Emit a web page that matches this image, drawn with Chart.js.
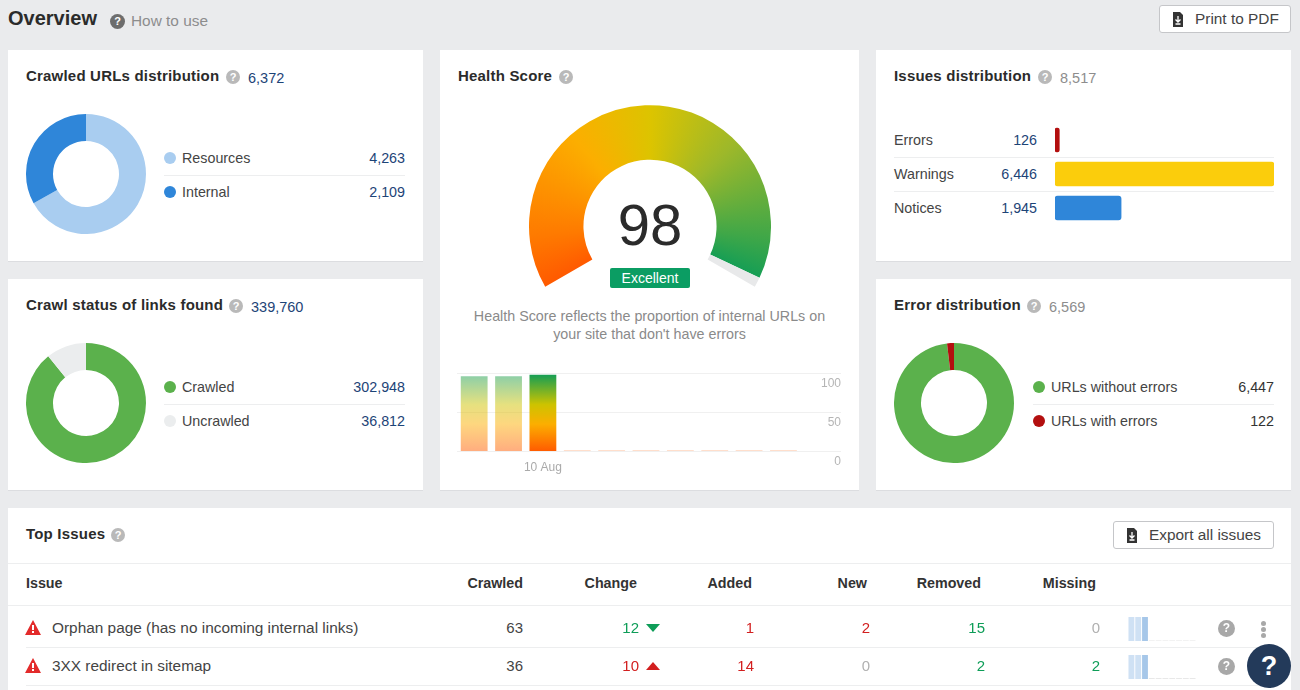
<!DOCTYPE html>
<html lang="en">
<head>
    <meta charset="UTF-8">
    <title>Site Audit Overview</title>
    <script src="https://cdn.jsdelivr.net/npm/chart.js"></script>
    <style>
        html, body { margin: 0; padding: 0; }
        body {
            position: relative;
            width: 1300px;
            height: 690px;
            overflow: hidden;
            background: #eaebed;
            font-family: "Liberation Sans", Arial, sans-serif;
            font-size: 14.3px;
            color: #333;
        }
        .card { position: absolute; background: #fff; border-bottom: 1px solid #dcdde0; box-sizing: border-box; }
        .abs { position: absolute; white-space: nowrap; line-height: 18px; }
        .title { font-weight: bold; font-size: 15px; color: #2b2b2b; letter-spacing: .2px; }
        .blue { color: #1d4477; }
        .grey { color: #8d8d8d; }
        .right { text-align: right; }
        .help {
            position: absolute; width: 14px; height: 14px; border-radius: 50%;
            background: #b9b9b9; color: #fff; font-size: 11px; font-weight: bold;
            line-height: 14px; text-align: center;
        }
        .dot { position: absolute; width: 12px; height: 12px; border-radius: 50%; }
        .sep { position: absolute; height: 1px; background: #edeeef; }
        .btn {
            position: absolute; box-sizing: border-box; background: #fff;
            border: 1px solid #c5c6c9; border-radius: 3px; line-height: 26px;
            color: #444; white-space: nowrap; font-size: 15.4px;
        }
        .btn svg { position: absolute; left: 11px; top: 6px; }
        canvas { position: absolute; display: block; }
        .th { font-weight: bold; font-size: 14.3px; color: #333; }
        .cell { font-size: 15px; color: #444; }
        .good { color: #0e9d58; }
        .bad { color: #d21f1f; }
        .none { color: #b0b0b0; }
        #badge {
            position: absolute; left: 610px; top: 268px; width: 80px; height: 20px;
            background: #0b9d63; color: #fff; border-radius: 2px; text-align: center;
            font-size: 14px; line-height: 20px;
        }
        #score { position: absolute; left: 590px; top: 190px; width: 120px; text-align: center; font-size: 58px; line-height: 70px; color: #2b2b2b; }
        #fab {
            position: absolute; left: 1247px; top: 644px; width: 44px; height: 44px; border-radius: 50%; z-index: 10;
            background: #233a5a; color: #fff; text-align: center; font-size: 27px; font-weight: bold; line-height: 44px;
        }
        .kebab { position: absolute; left: 1261px; width: 5px; height: 5px; border-radius: 50%; background: #a8a8a8; }
    </style>
</head>
<body>
    <div class="abs" style="left:8px;top:6px;font-size:20px;line-height:24px;font-weight:bold;color:#2b2b2b">Overview</div>
    <div class="help" style="left:110px;top:14px;width:15px;height:15px;line-height:15px;background:#6d6d6d">?</div>
    <div class="abs grey" style="left:131px;top:12px;font-size:15.4px">How to use</div>
    <div class="btn" style="left:1159px;top:5px;width:132px;height:28px;padding-left:35px">
        <svg width="14" height="15" viewBox="0 0 14 15"><path d="M2 0h7l3 3v12H2z" fill="#333"/><path d="M7 4v5M4.5 7.5L7 10l2.5-2.5M4.5 12h5" stroke="#fff" stroke-width="1.3" fill="none"/></svg>Print to PDF
    </div>

    <div class="card" style="left:8px;top:50px;width:415px;height:212px"></div>
    <div class="card" style="left:8px;top:279px;width:415px;height:212px"></div>
    <div class="card" style="left:440px;top:50px;width:419px;height:441px"></div>
    <div class="card" style="left:876px;top:50px;width:415px;height:212px"></div>
    <div class="card" style="left:876px;top:279px;width:415px;height:212px"></div>
    <div class="card" style="left:8px;top:508px;width:1283px;height:190px"></div>

    <div class="abs title" style="left:26px;top:67px">Crawled URLs distribution</div>
    <div class="help" style="left:226px;top:70px">?</div>
    <div class="abs blue" style="left:248px;top:69px;font-size:14.5px">6,372</div>

    <div class="abs title" style="left:26px;top:296px">Crawl status of links found</div>
    <div class="help" style="left:229px;top:299px">?</div>
    <div class="abs blue" style="left:251px;top:298px;font-size:14.5px">339,760</div>

    <div class="abs title" style="left:458px;top:67px">Health Score</div>
    <div class="help" style="left:559px;top:70px">?</div>

    <div class="abs title" style="left:894px;top:67px">Issues distribution</div>
    <div class="help" style="left:1038px;top:70px">?</div>
    <div class="abs grey" style="left:1060px;top:69px;font-size:14.5px">8,517</div>

    <div class="abs title" style="left:894px;top:296px">Error distribution</div>
    <div class="help" style="left:1027px;top:299px">?</div>
    <div class="abs grey" style="left:1049px;top:298px;font-size:14.5px">6,569</div>

    <canvas id="crawledChart" width="120" height="120" style="left:26px;top:114px"></canvas>
    <canvas id="statusChart" width="120" height="120" style="left:26px;top:343px"></canvas>
    <canvas id="errorChart" width="120" height="120" style="left:894px;top:343px"></canvas>
    <canvas id="gaugeChart" width="242" height="182" style="left:529px;top:105px"></canvas>
    <canvas id="historyChart" width="384" height="116" style="left:457px;top:360px"></canvas>
    <canvas id="issuesChart" width="219" height="102" style="left:1055px;top:123px"></canvas>

    <div id="score">98</div>
    <div id="badge">Excellent</div>
    <div class="abs grey" style="left:440px;top:307px;width:419px;text-align:center;line-height:18px;white-space:normal;color:#8a8a8a">Health Score reflects the proportion of internal URLs on<br>your site that don't have errors</div>

    <div class="abs title" style="left:26px;top:525px">Top Issues</div>
    <div class="help" style="left:111px;top:528px">?</div>
    <div class="btn" style="left:1113px;top:521px;width:161px;height:28px;padding-left:35px">
        <svg width="14" height="15" viewBox="0 0 14 15"><path d="M2 0h7l3 3v12H2z" fill="#333"/><path d="M7 4v5M4.5 7.5L7 10l2.5-2.5M4.5 12h5" stroke="#fff" stroke-width="1.3" fill="none"/></svg>Export all issues
    </div>
    <div class="sep" style="left:8px;top:563px;width:1283px"></div>
    <div class="sep" style="left:8px;top:605px;width:1283px"></div>
    <canvas id="sparkChart0" width="68" height="24" style="left:1128px;top:617px"></canvas>
    <canvas id="sparkChart1" width="68" height="24" style="left:1128px;top:655px"></canvas>
    <div class="kebab" style="top:621px"></div>
    <div class="kebab" style="top:627px"></div>
    <div class="kebab" style="top:633px"></div>
    <div id="fab">?</div>

    <script>
        // Values
        const crawledLabels = ['Resources', 'Internal'];
        const crawledValues = [4263, 2109];
        const statusLabels = ['Crawled', 'Uncrawled'];
        const statusValues = [302948, 36812];
        const errorLabels = ['URLs without errors', 'URLs with errors'];
        const errorValues = [6447, 122];
        const issueLabels = ['Errors', 'Warnings', 'Notices'];
        const issueValues = [126, 6446, 1945];
        const healthScore = 98;
        const historyLabels = ['', '', '10 Aug', '', '', '', '', '', '', '', ''];
        const historyValues = [96, 96, 98, 2, 2, 2, 2, 2, 2, 2, null];
        const historyTicks = [0, 50, 100];
        const columnHeaders = ['Issue', 'Crawled', 'Change', 'Added', 'New', 'Removed', 'Missing'];
        const issueNames = ['Orphan page (has no incoming internal links)', '3XX redirect in sitemap'];
        const crawledCounts = [63, 36];
        const changeCounts = [12, 10];
        const changeDirections = ['down', 'up'];
        const addedCounts = [1, 14];
        const newCounts = [2, 0];
        const removedCounts = [15, 2];
        const missingCounts = [0, 2];
        const sparkValues0 = [63, 63, 63, 1, 1, 1, 1, 1, 1, 1];
        const sparkValues1 = [36, 36, 36, 1, 1, 1, 1, 1, 1, 1];

        Chart.defaults.animation = false;
        Chart.defaults.responsive = false;
        Chart.defaults.font.family = '"Liberation Sans", Arial, sans-serif';
        Chart.defaults.plugins.legend.display = false;
        Chart.defaults.plugins.tooltip.enabled = false;

        const fmt = v => v.toLocaleString('en-US');

        function addDiv(className, style, text) {
            const el = document.createElement('div');
            el.className = className;
            el.style.cssText = style;
            if (text !== undefined) el.textContent = text;
            document.body.appendChild(el);
            return el;
        }

        function donut(id, labels, values, colors) {
            new Chart(document.getElementById(id), {
                type: 'doughnut',
                data: { labels: labels, datasets: [{ data: values, backgroundColor: colors, borderWidth: 0 }] },
                options: { cutout: '55%' }
            });
        }

        function legendRows(labels, values, colors, left, right, top, valueClass) {
            labels.forEach((label, i) => {
                const y = top + i * 34;
                addDiv('dot', `left:${left - 6}px;top:${y - 6}px;background:${colors[i]}`);
                addDiv('abs', `left:${left + 12}px;top:${y - 9}px;color:#444`, label);
                addDiv('abs right ' + valueClass, `left:${right - 100}px;width:100px;top:${y - 9}px`, fmt(values[i]));
            });
            addDiv('sep', `left:${left - 6}px;top:${top + 17}px;width:${right - left + 6}px`);
        }

        const crawledColors = ['#a9cdf0', '#2f86d9'];
        const statusColors = ['#5bb14c', '#ebedee'];
        const errorColors = ['#5bb14c', '#b30f0f'];
        donut('crawledChart', crawledLabels, crawledValues, crawledColors);
        donut('statusChart', statusLabels, statusValues, statusColors);
        donut('errorChart', errorLabels, errorValues, errorColors);
        legendRows(crawledLabels, crawledValues, crawledColors, 170, 405, 158, 'blue');
        legendRows(statusLabels, statusValues, statusColors, 170, 405, 387, 'blue');
        legendRows(errorLabels, errorValues, errorColors, 1039, 1274, 387, '');

        // Gauge: 240 degree arc with a conic gradient
        new Chart(document.getElementById('gaugeChart'), {
            type: 'doughnut',
            data: {
                datasets: [{
                    data: [healthScore, 100 - healthScore],
                    borderWidth: 0,
                    backgroundColor(ctx) {
                        if (ctx.dataIndex === 1) return '#e8e9ea';
                        const chart = ctx.chart;
                        // the arc's centre sits one radius below the top of the canvas
                        const radius = chart.width / 2;
                        const g = chart.ctx.createConicGradient(150 * Math.PI / 180, radius, radius);
                        g.addColorStop(0, '#ff5a00');
                        g.addColorStop(0.07, '#fe7a00');
                        g.addColorStop(0.22, '#fcae00');
                        g.addColorStop(0.335, '#dcc400');
                        g.addColorStop(0.46, '#9db82a');
                        g.addColorStop(0.6, '#3fa748');
                        g.addColorStop(0.667, '#0c9c58');
                        g.addColorStop(1, '#ff5a00');
                        return g;
                    }
                }]
            },
            options: { rotation: -120, circumference: 240, cutout: '55%' }
        });

        // Score history
        new Chart(document.getElementById('historyChart'), {
            type: 'bar',
            data: {
                labels: historyLabels,
                datasets: [{
                    data: historyValues,
                    categoryPercentage: 1,
                    barPercentage: 0.78,
                    backgroundColor(ctx) {
                        const area = ctx.chart.chartArea;
                        if (!area) return '#eee';
                        const a = ctx.dataIndex === 2 ? 1 : (ctx.dataIndex > 2 ? 0.2 : 0.5);
                        const g = ctx.chart.ctx.createLinearGradient(0, area.bottom, 0, area.top);
                        g.addColorStop(0, `rgba(255,90,0,${a})`);
                        g.addColorStop(0.35, `rgba(252,174,0,${a})`);
                        g.addColorStop(0.6, `rgba(205,195,0,${a})`);
                        g.addColorStop(1, `rgba(12,156,88,${a})`);
                        return g;
                    }
                }]
            },
            options: {
                layout: { padding: { top: 3 } },
                scales: {
                    x: {
                        grid: { display: false },
                        border: { display: false },
                        ticks: { color: '#aaa', font: { size: 12 }, autoSkip: false, maxRotation: 0, padding: 1 }
                    },
                    y: {
                        position: 'right',
                        min: 0,
                        max: 100,
                        afterBuildTicks(axis) { axis.ticks = historyTicks.map(v => ({ value: v })); },
                        afterFit(axis) { axis.width = 6; },
                        grid: { color: '#f0f0f0', tickLength: 6 },
                        border: { display: false },
                        ticks: { color: '#b5b5b5', font: { size: 12 }, mirror: true, padding: 6, labelOffset: 10.5 }
                    }
                }
            }
        });

        // Issues bars
        issueLabels.forEach((label, i) => {
            addDiv('abs', `left:894px;top:${131 + i * 34}px;color:#444`, label);
            addDiv('abs right blue', `left:937px;width:100px;top:${131 + i * 34}px`, fmt(issueValues[i]));
        });
        addDiv('sep', 'left:894px;top:157px;width:380px');
        addDiv('sep', 'left:894px;top:191px;width:380px');
        new Chart(document.getElementById('issuesChart'), {
            type: 'bar',
            data: {
                labels: issueLabels,
                datasets: [{
                    data: issueValues,
                    backgroundColor: ['#b30f0f', '#fbcd0c', '#2f86d9'],
                    barThickness: 24,
                    borderRadius: 3,
                    borderSkipped: false
                }]
            },
            options: {
                indexAxis: 'y',
                scales: {
                    x: { display: false, min: 0, max: 6446 },
                    y: { display: false }
                }
            }
        });

        // Top issues table
        const columnRight = [0, 523, 637, 752, 867, 981, 1096];
        columnHeaders.forEach((h, c) => {
            if (c === 0) addDiv('abs th', 'left:26px;top:574px', h);
            else addDiv('abs th right', `left:${columnRight[c] - 100}px;width:100px;top:574px`, h);
        });
        issueNames.forEach((name, r) => {
            const y = 619 + r * 38;
            const tri = document.createElementNS('http://www.w3.org/2000/svg', 'svg');
            tri.setAttribute('width', 16);
            tri.setAttribute('height', 15);
            tri.style.cssText = `position:absolute;left:25px;top:${y + 1}px`;
            tri.innerHTML = '<path d="M8 0L16 15H0z" fill="#e32b2b"/><rect x="7" y="5" width="2" height="5" fill="#fff"/><rect x="7" y="11" width="2" height="2" fill="#fff"/>';
            document.body.appendChild(tri);
            addDiv('abs', `left:52px;top:${y}px;color:#444;font-size:15.4px`, name);
            addDiv('sep', `left:26px;top:${647 + r * 38}px;width:1247px`);

            const changeClass = changeDirections[r] === 'down' ? 'good' : 'bad';
            const triangle = changeDirections[r] === 'down'
                ? 'border-top:8px solid #0e9d58'
                : 'border-bottom:8px solid #d21f1f';
            const cell = (right, value, cls) => addDiv('abs right cell ' + cls, `left:${right - 100}px;width:100px;top:${y}px`, value);
            cell(523, crawledCounts[r], '');
            cell(639, changeCounts[r], changeClass);
            addDiv('abs', `left:646px;top:${y + 5}px;width:0;height:0;border-left:7px solid transparent;border-right:7px solid transparent;${triangle}`);
            cell(754, addedCounts[r], addedCounts[r] ? 'bad' : 'none');
            cell(870, newCounts[r], newCounts[r] ? 'bad' : 'none');
            cell(985, removedCounts[r], removedCounts[r] ? 'good' : 'none');
            cell(1100, missingCounts[r], missingCounts[r] ? 'good' : 'none');
            addDiv('help', `left:1218px;top:${y + 1}px;width:17px;height:17px;line-height:17px;background:#a8a8a8;font-size:12px`, '?');
        });

        function spark(id, values) {
            new Chart(document.getElementById(id), {
                type: 'bar',
                data: {
                    labels: values.map((v, i) => i),
                    datasets: [{
                        data: values,
                        categoryPercentage: 1,
                        barPercentage: 0.86,
                        backgroundColor(ctx) {
                            if (ctx.dataIndex === 2) return '#a6c7e9';
                            return ctx.dataIndex < 2 ? '#cfe1f4' : '#dddddd';
                        }
                    }]
                },
                options: {
                    scales: {
                        x: { display: false },
                        y: { display: false, min: 0, max: Math.max(...values) }
                    }
                }
            });
        }
        spark('sparkChart0', sparkValues0);
        spark('sparkChart1', sparkValues1);
    </script>
</body>
</html>
